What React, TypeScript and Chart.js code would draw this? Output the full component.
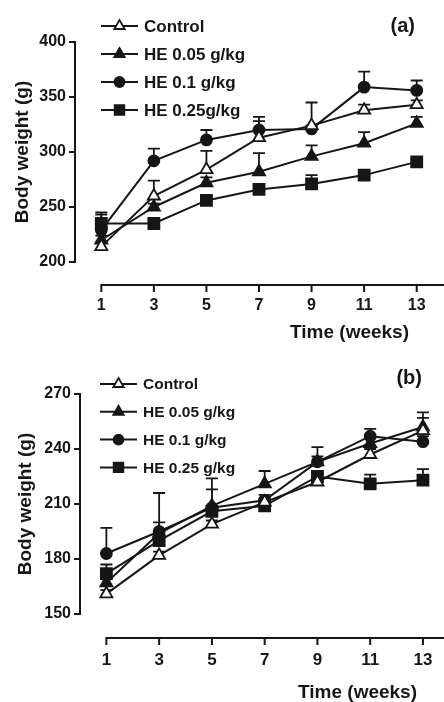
import React, { useEffect, useRef } from 'react';
import { Chart, registerables } from 'chart.js';
import { drawPoint } from 'chart.js/helpers';

Chart.register(...registerables);

// ---------- data ----------
const weeks = [1, 3, 5, 7, 9, 11, 13];
const xTickLabels = ['1', '3', '5', '7', '9', '11', '13'];

const namesA = ['Control', 'HE 0.05 g/kg', 'HE 0.1 g/kg', 'HE 0.25g/kg'];
const namesB = ['Control', 'HE 0.05 g/kg', 'HE 0.1 g/kg', 'HE 0.25 g/kg'];

// Panel (a)
const controlA = [214, 260, 284, 313, 324, 338, 343];
const he005A = [220, 250, 272, 282, 296, 308, 326];
const he01A = [229, 292, 311, 320, 321, 359, 356];
const he025A = [235, 235, 256, 266, 271, 279, 291];
const controlErrA = [4, 14, 17, 15, 21, 5, 4];
const he005ErrA = [4, 3, 5, 17, 10, 10, 6];
const he01ErrA = [16, 11, 9, 12, 3, 14, 9];
const he025ErrA = [8, 3, 3, 3, 8, 2, 2];
const yTicksA = [200, 250, 300, 350, 400];

// Panel (b)
const controlB = [161, 182, 199, 211, 222, 237, 250];
const he005B = [167, 194, 209, 221, 233, 243, 252];
const he01B = [183, 195, 208, 212, 233, 247, 244];
const he025B = [172, 190, 206, 209, 225, 221, 223];
const controlErrB = [2, 2, 2, 2, 2, 3, 10];
const he005ErrB = [3, 6, 9, 7, 8, 3, 5];
const he01ErrB = [14, 21, 16, 3, 3, 4, 3];
const he025ErrB = [5, 3, 3, 2, 2, 5, 6];
const yTicksB = [150, 180, 210, 240, 270];

// ---------- styles ----------
const FONT = "'Liberation Sans', Arial, Helvetica, sans-serif";
const INK = '#161616';

const markerStyles = [
  { pointStyle: 'triangle', fill: '#ffffff', radius: 7, legendRadius: 6 },
  { pointStyle: 'triangle', fill: INK, radius: 7, legendRadius: 6 },
  { pointStyle: 'circle', fill: INK, radius: 5.5, legendRadius: 5 },
  { pointStyle: 'rect', fill: INK, radius: 7.8, legendRadius: 6.8 },
];

type Panel = {
  letter: string;
  names: string[];
  values: number[][];
  errors: number[][];
  yTicks: number[];
  yMin: number;
  yMax: number;
  xMin: number;
  xMax: number;
  padTop: number;
  yWidth: number;
  xHeight: number;
  xAxisGap: number;
  xLabelPad: number;
  xLabelSize: number;
  yTitlePad: number;
  legendX: number;
  legendTop: number;
  legendGap: number;
  legendSize: number;
  letterX: number;
  letterY: number;
  xTitleRight: number;
  xTitleY: number;
};

const panelA: Panel = {
  letter: '(a)',
  names: namesA,
  values: [controlA, he005A, he01A, he025A],
  errors: [controlErrA, he005ErrA, he01ErrA, he025ErrA],
  yTicks: yTicksA,
  yMin: 200,
  yMax: 400,
  xMin: 0,
  xMax: 14,
  padTop: 42,
  yWidth: 75,
  xHeight: 89,
  xAxisGap: 23,
  xLabelPad: 34,
  xLabelSize: 16,
  yTitlePad: 11,
  legendX: 101,
  legendTop: 26,
  legendGap: 28,
  legendSize: 17,
  letterX: 415,
  letterY: 26,
  xTitleRight: 409,
  xTitleY: 333,
};

const panelB: Panel = {
  letter: '(b)',
  names: namesB,
  values: [controlB, he005B, he01B, he025B],
  errors: [controlErrB, he005ErrB, he01ErrB, he025ErrB],
  yTicks: yTicksB,
  yMin: 150,
  yMax: 270,
  xMin: 0,
  xMax: 13.76,
  padTop: 43,
  yWidth: 80,
  xHeight: 88,
  xAxisGap: 24,
  xLabelPad: 36,
  xLabelSize: 17,
  yTitlePad: 14,
  legendX: 100,
  legendTop: 33,
  legendGap: 27.8,
  legendSize: 15.5,
  letterX: 422,
  letterY: 27,
  xTitleRight: 417,
  xTitleY: 342,
};

function makeChart(canvas: HTMLCanvasElement, p: Panel) {
  const datasets = p.values.map((vals, i) => {
    const m = markerStyles[i];
    return {
      label: p.names[i],
      data: vals.map((v, j) => ({ x: weeks[j], y: v })),
      borderColor: INK,
      borderWidth: 2,
      pointStyle: m.pointStyle,
      pointRadius: m.radius,
      pointBackgroundColor: m.fill,
      pointBorderColor: INK,
      pointBorderWidth: 1.8,
      fill: false,
      tension: 0,
      clip: 12,
    };
  });

  const decor = {
    id: 'decor',
    beforeDatasetsDraw(chart: any) {
      const { ctx } = chart;
      const xs = chart.scales.x;
      const ys = chart.scales.y;
      ctx.save();
      ctx.strokeStyle = INK;
      ctx.lineWidth = 1.8;
      p.values.forEach((vals, i) => {
        vals.forEach((v, j) => {
          const px = xs.getPixelForValue(weeks[j]);
          const py = ys.getPixelForValue(v);
          const pe = ys.getPixelForValue(v + p.errors[i][j]);
          ctx.beginPath();
          ctx.moveTo(px, py);
          ctx.lineTo(px, pe);
          ctx.moveTo(px - 6, pe);
          ctx.lineTo(px + 6, pe);
          ctx.stroke();
        });
      });
      ctx.restore();
    },
    afterDraw(chart: any) {
      const { ctx, chartArea } = chart;
      const xs = chart.scales.x;
      ctx.save();
      // offset x axis line with ticks
      const ay = chartArea.bottom + p.xAxisGap;
      ctx.strokeStyle = INK;
      ctx.lineWidth = 2;
      ctx.beginPath();
      ctx.moveTo(xs.getPixelForValue(weeks[0]) - 1, ay);
      ctx.lineTo(chart.width, ay);
      weeks.forEach((w) => {
        const px = xs.getPixelForValue(w);
        ctx.moveTo(px, ay);
        ctx.lineTo(px, ay + 7);
      });
      ctx.stroke();

      // legend
      ctx.fillStyle = INK;
      p.names.forEach((name, i) => {
        const m = markerStyles[i];
        const ly = p.legendTop + i * p.legendGap;
        ctx.strokeStyle = INK;
        ctx.lineWidth = 2;
        ctx.beginPath();
        ctx.moveTo(p.legendX, ly);
        ctx.lineTo(p.legendX + 37, ly);
        ctx.stroke();
        ctx.fillStyle = m.fill;
        ctx.strokeStyle = INK;
        ctx.lineWidth = 1.8;
        drawPoint(ctx, { pointStyle: m.pointStyle as any, radius: m.legendRadius, borderWidth: 1.8, rotation: 0 }, p.legendX + 18.5, ly);
        ctx.fillStyle = INK;
        ctx.font = `bold ${p.legendSize}px ${FONT}`;
        ctx.textAlign = 'left';
        ctx.textBaseline = 'middle';
        ctx.fillText(name, p.legendX + 43, ly + 1);
      });

      // panel letter
      ctx.font = `bold 20px ${FONT}`;
      ctx.textAlign = 'right';
      ctx.textBaseline = 'middle';
      ctx.fillText(p.letter, p.letterX, p.letterY);

      // x title
      ctx.font = `bold 19px ${FONT}`;
      ctx.textAlign = 'right';
      ctx.fillText('Time (weeks)', p.xTitleRight, p.xTitleY);
      ctx.restore();
    },
  };

  return new Chart(canvas, {
    type: 'line',
    data: { datasets: datasets as any },
    options: {
      responsive: false,
      maintainAspectRatio: false,
      animation: false,
      devicePixelRatio: 1,
      layout: { autoPadding: false, padding: { top: p.padTop, right: 1, left: 0, bottom: 0 } },
      plugins: { legend: { display: false }, tooltip: { enabled: false } },
      scales: {
        x: {
          type: 'linear',
          min: p.xMin,
          max: p.xMax,
          afterBuildTicks: (s: any) => {
            s.ticks = weeks.map((w) => ({ value: w }));
          },
          afterFit: (s: any) => {
            s.height = p.xHeight;
            s.paddingLeft = 0;
            s.paddingRight = 0;
          },
          ticks: {
            padding: 2,
            maxRotation: 0,
            autoSkip: false,
            color: INK,
            font: { family: FONT, size: p.xLabelSize, weight: 'bold' },
            callback: (v: any) => xTickLabels[weeks.indexOf(Number(v))] ?? '',
          },
          grid: { display: false, drawTicks: true, tickLength: p.xLabelPad - 2 },
          border: { display: false },
        },
        y: {
          type: 'linear',
          min: p.yMin,
          max: p.yMax,
          afterBuildTicks: (s: any) => {
            s.ticks = p.yTicks.map((v) => ({ value: v }));
          },
          afterFit: (s: any) => {
            s.width = p.yWidth;
            s.paddingTop = 0;
            s.paddingBottom = 0;
          },
          ticks: {
            padding: 3,
            color: INK,
            font: { family: FONT, size: 16, weight: 'bold' },
          },
          grid: {
            display: true,
            drawOnChartArea: false,
            drawTicks: true,
            tickLength: 6,
            color: INK,
            lineWidth: 2,
          },
          border: { display: true, color: INK, width: 2 },
          title: {
            display: true,
            text: 'Body weight (g)',
            color: INK,
            font: { family: FONT, size: 19, weight: 'bold' },
            padding: { top: p.yTitlePad, bottom: 0 },
          },
        },
      },
    },
    plugins: [decor],
  });
}

export default function App() {
  const refA = useRef<HTMLCanvasElement>(null);
  const refB = useRef<HTMLCanvasElement>(null);
  useEffect(() => {
    const a = makeChart(refA.current!, panelA);
    const b = makeChart(refB.current!, panelB);
    return () => {
      a.destroy();
      b.destroy();
    };
  }, []);
  return (
    <div style={{ position: 'fixed', left: 0, top: 0, width: 444, height: 702, background: '#ffffff' }}>
      <canvas ref={refA} width={444} height={351} style={{ display: 'block', width: 444, height: 351 }} />
      <canvas ref={refB} width={444} height={351} style={{ display: 'block', width: 444, height: 351 }} />
    </div>
  );
}
